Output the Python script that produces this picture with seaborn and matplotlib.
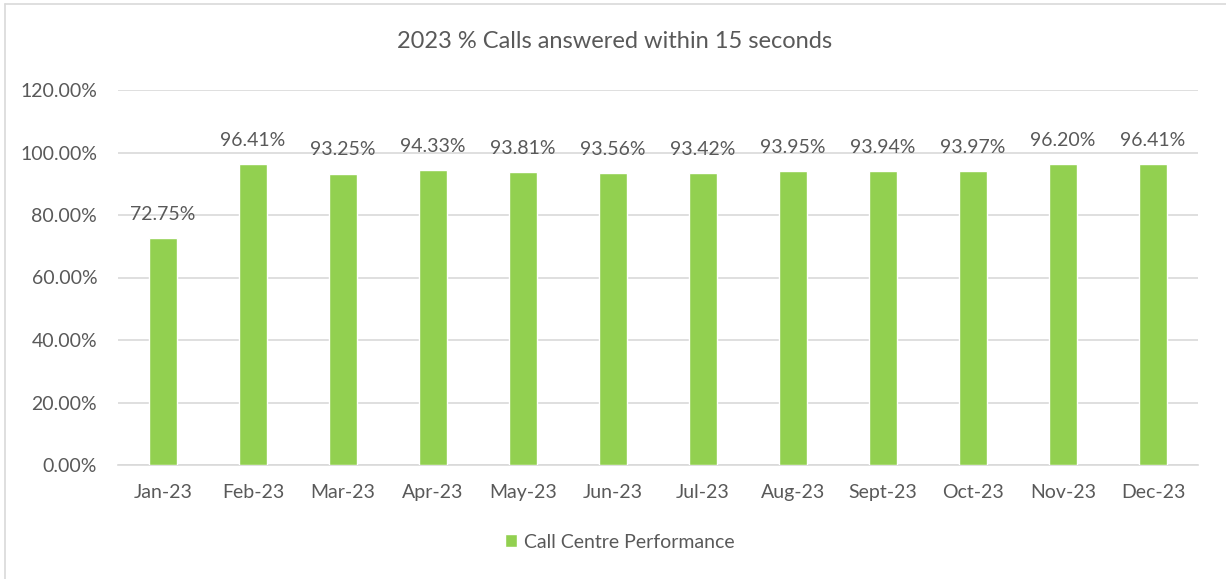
import matplotlib
matplotlib.use("Agg")
import matplotlib.pyplot as plt
from matplotlib.lines import Line2D
from matplotlib.patches import Patch
import seaborn as sns
import pandas as pd

months = ["Jan-23", "Feb-23", "Mar-23", "Apr-23", "May-23", "Jun-23",
          "Jul-23", "Aug-23", "Sept-23", "Oct-23", "Nov-23", "Dec-23"]
pct_answered = [72.75, 96.41, 93.25, 94.33, 93.81, 93.56,
                93.42, 93.95, 93.94, 93.97, 96.20, 96.41]
series_name = "Call Centre Performance"
title = "2023 % Calls answered within 15 seconds"
y_ticks = [0, 20, 40, 60, 80, 100, 120]

df = pd.DataFrame({"month": months, "value": pct_answered})

txt = "#595959"
grid = "#D9D9D9"
green = "#92D050"

sns.set_style("white")
plt.rcParams['font.family'] = ['Lato', 'DejaVu Sans']

fig = plt.figure(figsize=(12.26, 5.79), dpi=100)
ax = fig.add_axes([118 / 1226, 1 - 465 / 579, 1080 / 1226, 375 / 579])

sns.barplot(data=df, x="month", y="value", color=green, width=0.31,
            saturation=1, ax=ax, legend=False, zorder=3)

ax.set_ylim(0, 120)
ax.set_xlim(-0.5, len(months) - 0.5)
ax.set_yticks(y_ticks)
ax.set_yticklabels([f"{v:.2f}%" for v in y_ticks])
ax.yaxis.grid(True, color=grid, linewidth=1.2, zorder=0)
ax.set_axisbelow(True)
for s in ["top", "right", "left"]:
    ax.spines[s].set_visible(False)
ax.spines["bottom"].set_color(grid)
ax.spines["bottom"].set_linewidth(1.2)
ax.set_xlabel("")
ax.set_ylabel("")

# excel style tick marks between categories
ax.set_xticks([i - 0.5 for i in range(len(months) + 1)], minor=True)
ax.tick_params(axis="x", which="minor", length=6, color=grid, width=1.2)
ax.tick_params(axis="x", which="major", length=0, pad=14, labelsize=14, labelcolor=txt)
ax.tick_params(axis="y", length=0, pad=15, labelsize=14, labelcolor=txt)

for i, v in enumerate(pct_answered):
    ax.annotate(f"{v:.2f}%", (i, v), xytext=(0, 17), textcoords="offset points",
                ha="center", va="center", fontsize=14, color=txt)

fig.suptitle(title, x=615 / 1226, y=1 - 42 / 579, va="center",
             fontsize=17, color=txt)

handles = [Patch(facecolor=green, label=series_name)]
fig.legend(handles=handles, loc="center", bbox_to_anchor=(620 / 1226, 1 - 542 / 579),
           frameon=False, handlelength=0.6, handleheight=0.6,
           handletextpad=0.4, fontsize=14, labelcolor=txt)

# chart border
fig.add_artist(Line2D([5 / 1226, 5 / 1226], [0, 1 - 4 / 579], color=grid, lw=1.2))
fig.add_artist(Line2D([5 / 1226, 1], [1 - 4 / 579, 1 - 4 / 579], color=grid, lw=1.2))

fig.savefig("out.png", dpi=100)
